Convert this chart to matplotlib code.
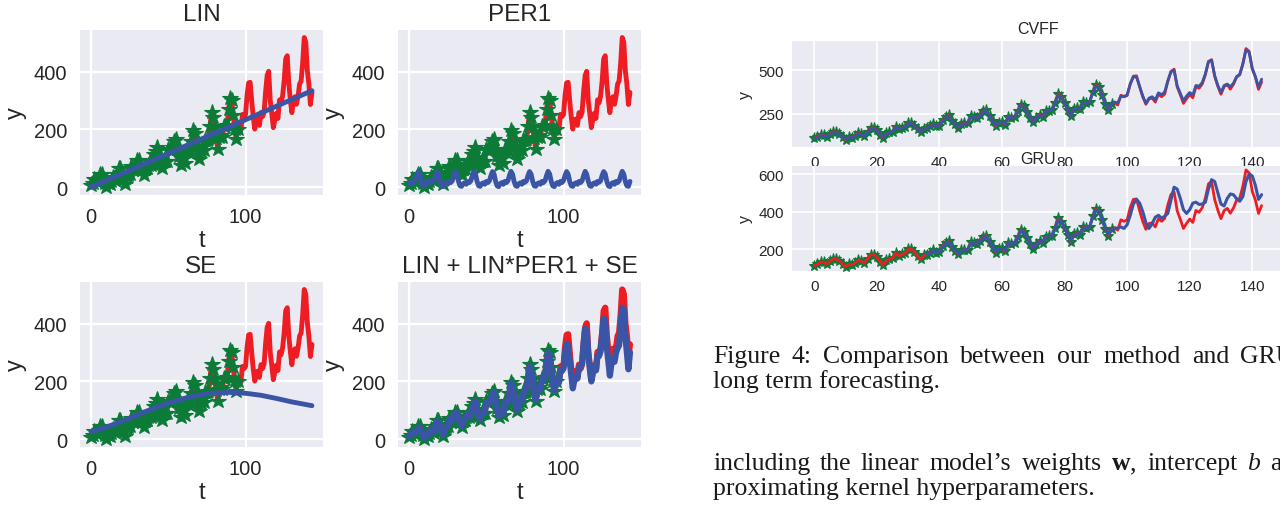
import matplotlib.pyplot as plt

# monthly airline passengers, t = 0..143 (right figure)
passengers = [
    112, 118, 132, 129, 121, 135, 148, 148, 136, 119, 104, 118,
    115, 126, 141, 135, 125, 149, 170, 170, 158, 133, 114, 140,
    145, 150, 178, 163, 172, 178, 199, 199, 184, 162, 146, 166,
    171, 180, 193, 181, 183, 218, 230, 242, 209, 191, 172, 194,
    196, 196, 236, 235, 229, 243, 264, 272, 237, 211, 180, 201,
    204, 188, 235, 227, 234, 264, 302, 293, 259, 229, 203, 229,
    242, 233, 267, 269, 270, 315, 364, 347, 312, 274, 237, 278,
    284, 277, 317, 313, 318, 374, 413, 405, 355, 306, 271, 306,
    315, 301, 356, 348, 355, 422, 465, 467, 404, 347, 305, 336,
    340, 318, 362, 348, 363, 435, 491, 505, 404, 359, 310, 337,
    360, 342, 406, 396, 420, 472, 548, 559, 463, 407, 362, 405,
    417, 391, 419, 461, 472, 535, 622, 606, 508, 461, 390, 432,
]

# same series as shown in the left figure (starts near zero)
y_left = [
    8, 14, 28, 25, 17, 31, 44, 44, 32, 15, 0, 14,
    11, 22, 37, 31, 21, 45, 66, 66, 54, 29, 10, 36,
    41, 46, 74, 59, 68, 74, 95, 95, 80, 58, 42, 62,
    67, 76, 89, 77, 79, 114, 126, 138, 105, 87, 68, 90,
    92, 92, 132, 131, 125, 139, 160, 168, 133, 107, 76, 97,
    100, 84, 131, 123, 130, 160, 198, 189, 155, 125, 99, 125,
    138, 129, 163, 165, 166, 211, 260, 243, 208, 170, 133, 174,
    180, 173, 213, 209, 214, 270, 309, 301, 251, 202, 167, 202,
    211, 197, 252, 244, 251, 318, 361, 363, 300, 243, 201, 232,
    236, 214, 258, 244, 259, 331, 387, 401, 300, 255, 206, 233,
    256, 238, 302, 292, 316, 368, 444, 455, 359, 303, 258, 301,
    313, 287, 315, 357, 368, 431, 518, 502, 404, 357, 286, 328,
]

n_train = 96
t = list(range(len(passengers)))

# kernel predictions (left figure)
lin_t = [0, 143]
lin_pred = [0, 334]

se_t = [0, 10, 20, 30, 40, 50, 60, 70, 80, 90, 100, 110, 120, 130, 143]
se_pred = [26, 42, 62, 84, 106, 125, 141, 153, 160, 162, 159, 152, 141, 129, 116]

per1_pred = [
    10, 14, 22, 16, 24, 42, 55, 44, 20, 4, 6, 18,
    22, 12, 20, 18, 22, 40, 54, 46, 22, 6, 2, 12,
    16, 10, 20, 16, 22, 40, 55, 45, 20, 5, 3, 12,
    15, 10, 19, 16, 22, 41, 54, 45, 21, 5, 3, 12,
    15, 10, 20, 16, 22, 40, 54, 46, 21, 5, 2, 12,
    16, 10, 20, 16, 22, 41, 55, 45, 20, 5, 3, 12,
    15, 10, 20, 17, 22, 40, 54, 45, 21, 5, 3, 12,
    15, 10, 20, 16, 22, 40, 55, 46, 21, 5, 2, 12,
    16, 10, 20, 16, 23, 41, 54, 45, 20, 5, 3, 12,
    15, 10, 20, 16, 22, 40, 55, 45, 21, 5, 3, 12,
    15, 10, 20, 17, 22, 41, 54, 46, 21, 5, 2, 12,
    16, 10, 20, 16, 22, 40, 55, 45, 20, 5, 3, 20,
]

combo_pred = [
    10, 14, 24, 24, 20, 30, 40, 40, 30, 16, 4, 14,
    12, 22, 34, 30, 24, 42, 62, 62, 50, 30, 14, 34,
    40, 46, 70, 60, 66, 74, 92, 92, 78, 58, 44, 62,
    66, 74, 88, 78, 80, 110, 124, 132, 104, 86, 68, 88,
    90, 92, 128, 128, 124, 138, 158, 164, 132, 106, 80, 96,
    100, 88, 128, 122, 130, 158, 194, 186, 154, 124, 100, 124,
    136, 130, 160, 162, 166, 208, 252, 238, 204, 168, 136, 170,
    178, 172, 210, 206, 212, 262, 300, 292, 246, 200, 168, 200,
    205, 196, 238, 236, 245, 300, 330, 322, 270, 222, 176, 205,
    218, 210, 250, 248, 262, 330, 382, 375, 300, 245, 200, 230,
    250, 240, 290, 288, 305, 360, 417, 410, 320, 270, 220, 262,
    275, 268, 300, 315, 325, 400, 455, 448, 360, 300, 242, 300,
]

# model predictions (right figure)
cvff_pred = [
    108, 114, 128, 126, 120, 132, 144, 144, 134, 118, 106, 116,
    114, 124, 138, 134, 126, 146, 166, 166, 156, 134, 116, 138,
    142, 150, 174, 164, 170, 178, 196, 196, 182, 162, 148, 166,
    170, 178, 192, 182, 184, 214, 228, 238, 208, 190, 174, 192,
    194, 198, 232, 232, 228, 242, 262, 268, 236, 210, 184, 202,
    204, 192, 232, 228, 234, 262, 298, 290, 258, 228, 204, 228,
    240, 234, 266, 268, 270, 312, 358, 344, 310, 274, 240, 276,
    282, 278, 314, 312, 318, 370, 408, 400, 352, 306, 274, 306,
    318, 312, 352, 350, 358, 420, 462, 460, 405, 352, 310, 340,
    348, 330, 370, 360, 375, 438, 490, 500, 410, 368, 325, 352,
    372, 358, 412, 408, 428, 478, 548, 555, 468, 412, 372, 412,
    420, 405, 425, 462, 476, 535, 615, 600, 508, 462, 402, 448,
]
cvff_band = 8

gru_start = 36
gru_pred = [
    172, 176, 190, 184, 184, 212, 228, 238, 214, 194, 176, 190,
    196, 198, 228, 232, 230, 242, 260, 268, 240, 214, 186, 200,
    204, 194, 230, 228, 232, 260, 296, 290, 260, 232, 206, 226,
    240, 236, 264, 268, 270, 310, 356, 346, 314, 278, 242, 274,
    282, 280, 314, 312, 318, 368, 408, 402, 358, 310, 276, 304,
    310, 312, 318, 310, 330, 380, 440, 465, 445, 400, 340, 310,
    335, 370, 380, 365, 375, 390, 460, 530, 520, 470, 410, 390,
    410, 445, 450, 438, 440, 450, 520, 570, 560, 500, 440, 430,
    470, 494, 490, 468, 455, 480, 560, 600, 590, 540, 465, 490,
]

RED = '#ee1d23'
BLUE = '#3a55a5'
GREEN = '#0c7b38'

plt.style.use('seaborn-v0_8-darkgrid')
plt.rcParams['font.family'] = ['Liberation Sans', 'DejaVu Sans']

W, H = 1280, 510
fig = plt.figure(figsize=(12.8, 5.1), dpi=100)


def box(l, top, r, b):
    return [l / W, 1 - b / H, (r - l) / W, (b - top) / H]


# ---- left figure: 2x2 kernel comparison ----
panels = [
    ('LIN', (80, 31, 323, 196), lin_t, lin_pred),
    ('PER1', (398, 31, 641, 196), t, per1_pred),
    ('SE', (80, 283, 323, 448), se_t, se_pred),
    ('LIN + LIN*PER1 + SE', (398, 283, 641, 448), t, combo_pred),
]
for title, pos, pt, pv in panels:
    ax = fig.add_axes(box(*pos))
    lw = 4.5 if title.startswith('LIN +') else 3.5
    ax.plot(t, y_left, color=RED, lw=lw)
    ax.plot(t[:n_train], y_left[:n_train], '*', color=GREEN, ms=11.5, mew=0.8)
    ax.plot(pt, pv, color=BLUE, lw=lw)
    ax.set_xlim(-7.15, 150.15)
    ax.set_ylim(-27, 544)
    ax.set_xticks([0, 100])
    ax.set_yticks([0, 200, 400])
    ax.tick_params(labelsize=14.5, length=0, pad=9, labelcolor='#262626')
    ax.grid(color='white', lw=1.6)
    ax.set_title(title, fontsize=17.5, color='#262626', pad=7)
    ax.set_xlabel('t', fontsize=17, labelpad=2, color='#262626')
    ax.set_ylabel('y', fontsize=17, labelpad=5, color='#262626')

# ---- right figure: CVFF vs GRU ----
ax1 = fig.add_axes(box(792, 42, 1284, 148))
ax1.plot(t[:n_train], passengers[:n_train], '*', color=GREEN, ms=8, mew=0.8)
ax1.plot(t, passengers, color=RED, lw=2)
ax1.fill_between(t, [v - cvff_band for v in cvff_pred],
                 [v + cvff_band for v in cvff_pred], color=BLUE, alpha=0.3, lw=0)
ax1.plot(t, cvff_pred, color=BLUE, lw=2)
ax1.set_xlim(-7.15, 150.15)
ax1.set_ylim(62, 665)
ax1.set_yticks([250, 500])
ax1.set_title('CVFF', fontsize=11.5, color='#262626', pad=6)

ax2 = fig.add_axes(box(792, 167, 1284, 272))
ax2.plot(t[:n_train], passengers[:n_train], '*', color=GREEN, ms=8, mew=0.8)
ax2.plot(t, passengers, color=RED, lw=2)
ax2.plot(t[gru_start:], gru_pred, color=BLUE, lw=2.2)
ax2.set_xlim(-7.15, 150.15)
ax2.set_ylim(83, 643)
ax2.set_yticks([200, 400, 600])
ax2.set_title('GRU', fontsize=11.5, color='#262626', pad=1)

for ax in (ax1, ax2):
    ax.set_xticks(range(0, 141, 20))
    ax.tick_params(labelsize=11, length=0, pad=6, labelcolor='#262626')
    ax.grid(color='white', lw=1.2)
    ax.set_ylabel('y', fontsize=11.5, labelpad=4, color='#262626')

# ---- paper text next to the figure ----
serif = dict(family='Liberation Serif', fontsize=18.5, color='#1a1a1a', va='baseline')

line1 = ['Figure', '4:', 'Comparison', 'between', 'our', 'method', 'and', 'GRU']
line1_x = [713, 792, 823, 960, 1057, 1103, 1192, 1240]
for word, x in zip(line1, line1_x):
    fig.text(x / W, 1 - 363 / H, word, **serif)
fig.text(713 / W, 1 - 388 / H, 'long term forecasting.', **serif)

line3 = ['including', 'the', 'linear', "model\u2019s", 'weights', 'w', ',', 'intercept', 'b', 'and']
line3_x = [713, 820, 861, 929, 1022, 1112, 1130, 1147, 1247, 1270]
for word, x in zip(line3, line3_x):
    style = dict(serif)
    if word == 'w':
        style['fontweight'] = 'bold'
    if word == 'b':
        style['fontstyle'] = 'italic'
    fig.text(x / W, 1 - 470 / H, word, **style)
fig.text(713 / W, 1 - 495 / H, 'proximating kernel hyperparameters.', **serif)

fig.savefig('out.png', dpi=100, facecolor='white')
